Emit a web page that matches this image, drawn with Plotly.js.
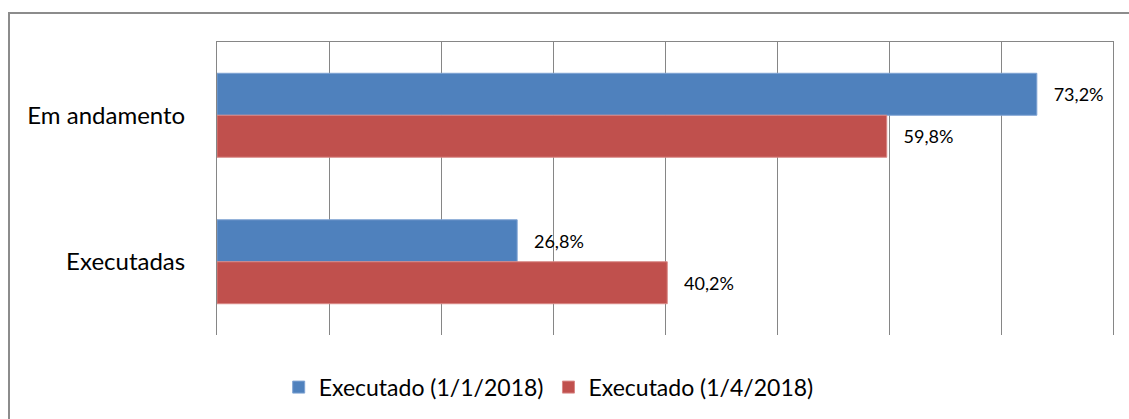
<!DOCTYPE html>
<html>
<head>
<meta charset="utf-8">
<script src="https://cdn.plot.ly/plotly-3.0.1.min.js"></script>
<style>
  html, body { margin: 0; padding: 0; background: #fff; }
  #wrap { position: relative; width: 1129px; height: 419px; overflow: hidden; }
  #frame { position: absolute; left: 8px; top: 12px; width: 1140px; height: 430px; border: 2px solid #8c8c8c; box-sizing: border-box; pointer-events: none; }
  #chart { position: absolute; left: 0; top: 0; width: 1129px; height: 419px; }
</style>
</head>
<body>
<div id="wrap">
  <div id="chart"></div>
  <div id="frame"></div>
</div>
<script>
const categories = ['Em andamento', 'Executadas'];
const seriesNames = ['Executado (1/1/2018)', 'Executado (1/4/2018)'];
const serie1 = [73.2, 26.8];
const serie2 = [59.8, 40.2];
const colors = ['#4F81BD', '#C0504D'];
const edgeColors = ['#7FA3D3', '#D98886'];

const FONT = 'Lato, "Open Sans", sans-serif';
const series = [serie1, serie2];
const traces = series.map((vals, i) => ({
  type: 'bar',
  orientation: 'h',
  name: seriesNames[i],
  y: categories,
  x: vals,
  marker: { color: colors[i], line: { color: edgeColors[i], width: 1 } },
  texttemplate: '\u00a0\u00a0\u00a0%{x:.1f}%',
  textposition: 'outside',
  cliponaxis: false,
  textfont: { family: FONT, size: 18, color: '#000' },
  hoverinfo: 'skip'
}));

const layout = {
  width: 1129,
  height: 419,
  margin: { l: 217, r: 16, t: 42, b: 84 },
  paper_bgcolor: 'rgba(0,0,0,0)',
  plot_bgcolor: 'rgba(0,0,0,0)',
  separators: ',.',
  barmode: 'group',
  bargap: 0.427,
  bargroupgap: 0,
  font: { family: FONT, color: '#000' },
  xaxis: {
    range: [0, 80],
    tick0: 0,
    dtick: 10,
    side: 'top',
    showgrid: true,
    gridcolor: '#868686',
    gridwidth: 1,
    zeroline: false,
    showline: true,
    linecolor: '#868686',
    linewidth: 1,
    showticklabels: false,
    ticks: '',
    fixedrange: true
  },
  yaxis: {
    type: 'category',
    autorange: 'reversed',
    showline: true,
    mirror: true,
    linecolor: '#868686',
    linewidth: 1,
    showgrid: false,
    ticks: '',
    ticklabelstandoff: 26,
    tickfont: { family: FONT, size: 24, color: '#000' },
    fixedrange: true
  },
  showlegend: true,
  legend: {
    orientation: 'h',
    xref: 'container',
    yref: 'container',
    x: 0.486,
    xanchor: 'center',
    y: 0.076,
    yanchor: 'middle',
    font: { family: FONT, size: 23, color: '#000' },
    itemwidth: 30,
    traceorder: 'normal'
  }
};

Plotly.newPlot('chart', traces, layout, { displayModeBar: false, staticPlot: true });
</script>
</body>
</html>
